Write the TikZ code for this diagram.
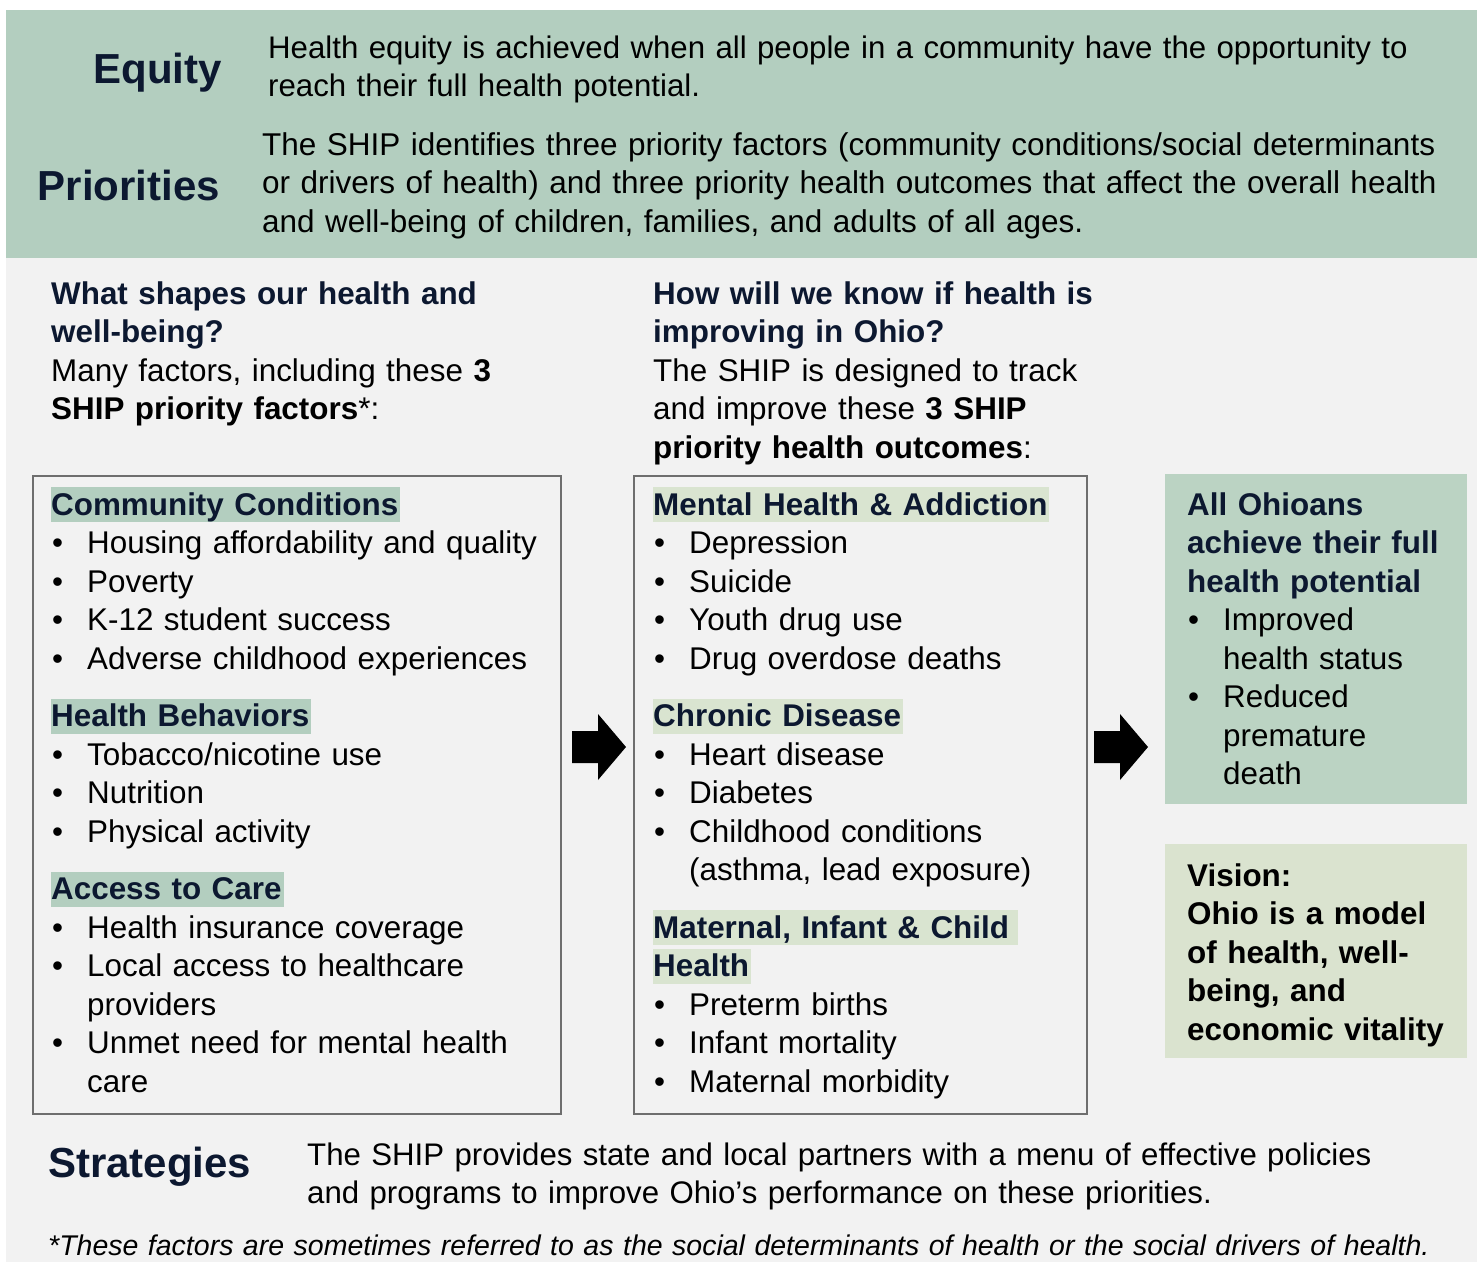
\documentclass[tikz,border=0pt]{standalone}
\usepackage{fontspec}
\setmainfont{Liberation Sans}

\definecolor{bandGreen}{RGB}{179,206,191}
\definecolor{paleGreen}{RGB}{217,228,208}
\definecolor{goalGreen}{RGB}{187,211,195}
\definecolor{visionGreen}{RGB}{218,227,207}
\definecolor{pageGray}{RGB}{242,242,242}
\definecolor{frameGray}{RGB}{110,110,110}
\definecolor{inkNavy}{RGB}{12,24,48}

\newcommand{\hilite}[2]{{\setlength{\fboxsep}{0pt}\colorbox{#1}{\rule[-7pt]{0pt}{35pt}#2}}}
\newcommand{\boxhead}[2]{\hilite{#1}{\textcolor{inkNavy}{\bfseries #2}}}
\newcommand{\nexthead}[2]{\par\vspace{19pt}\noindent\boxhead{#1}{#2}}
\newcommand{\bitem}[1]{\par\hangindent=36pt\hangafter=1\noindent\makebox[36pt][l]{\hspace{1pt}\textbullet}#1}

\begin{document}
\begin{tikzpicture}[x=1pt, y=-1pt]
  \tikzstyle{bandHead} = [anchor=base east, inner sep=0pt, text=inkNavy, font={\fontsize{42}{50}\selectfont\bfseries}];
  \tikzstyle{bandText} = [anchor=base west, inner sep=0pt, align=left, text width=1200pt, font={\fontsize{31.2}{38.5}\selectfont}];
  \tikzstyle{bodyText} = [anchor=base west, inner sep=0pt, align=left, text width=500pt, font={\fontsize{31.4}{38.5}\selectfont}];
  \tikzstyle{frameBox} = [draw=frameGray, line width=1.6pt, anchor=north west, inner sep=0pt];
  \tikzstyle{goalBox} = [anchor=north west, inner sep=0pt];

  \useasboundingbox (0,0) rectangle (1477,1262);
  \fill[white] (0,0) rectangle (1477,1262);
  \fill[pageGray] (6,258) rectangle (1477,1262);
  \fill[bandGreen] (6,10) rectangle (1477,258);

  \node[bandHead] (eqHead) at (222,83) {Equity};
  \node[bandText] (eqText) at (268,58) {Health equity is achieved when all people in a community have the opportunity to\\reach their full health potential.};
  \node[bandHead] (prHead) at (220,200) {Priorities};
  \node[bandText, font={\fontsize{31.5}{38.5}\selectfont}] (prText) at (262,155) {The SHIP identifies three priority factors (community conditions/social determinants\\or drivers of health) and three priority health outcomes that affect the overall health\\and well-being of children, families, and adults of all ages.};

  \node[bodyText] (askFactors) at (51,304) {{\color{inkNavy}\bfseries What shapes our health and\\well-being?}\\Many factors, including these \textbf{3}\\\textbf{SHIP priority factors}*:};
  \node[bodyText] (askOutcomes) at (653,304) {{\color{inkNavy}\bfseries How will we know if health is\\improving in Ohio?}\\The SHIP is designed to track\\and improve these \textbf{3 SHIP}\\\textbf{priority health outcomes}:};

  \node[frameBox, minimum width=528pt, minimum height=638pt] (factors) at (32,475) {};
  \node[frameBox, minimum width=453pt, minimum height=638pt] (outcomes) at (633,475) {};
  \node[goalBox, fill=goalGreen, minimum width=302pt, minimum height=330pt] (goal) at (1165,474) {};
  \node[goalBox, fill=visionGreen, minimum width=302pt, minimum height=214pt] (vision) at (1165,844) {};

  \node[bodyText] (factorList) at (51,515) {\noindent\boxhead{bandGreen}{Community Conditions\hspace{2pt}}
    \bitem{Housing affordability and quality}
    \bitem{Poverty}
    \bitem{K-12 student success}
    \bitem{Adverse childhood experiences}
    \nexthead{bandGreen}{Health Behaviors\hspace{2pt}}
    \bitem{Tobacco/nicotine use}
    \bitem{Nutrition}
    \bitem{Physical activity}
    \nexthead{bandGreen}{Access to Care\hspace{2pt}}
    \bitem{Health insurance coverage}
    \bitem{Local access to healthcare\newline providers}
    \bitem{Unmet need for mental health\newline care}\par};

  \node[bodyText] (outcomeList) at (653,515) {\noindent\boxhead{paleGreen}{Mental Health \& Addiction\hspace{2pt}}
    \bitem{Depression}
    \bitem{Suicide}
    \bitem{Youth drug use}
    \bitem{Drug overdose deaths}
    \nexthead{paleGreen}{Chronic Disease\hspace{2pt}}
    \bitem{Heart disease}
    \bitem{Diabetes}
    \bitem{Childhood conditions\newline (asthma, lead exposure)}
    \nexthead{paleGreen}{Maternal, Infant \& Child\hspace{9pt}}\\
    \boxhead{paleGreen}{Health\hspace{2pt}}
    \bitem{Preterm births}
    \bitem{Infant mortality}
    \bitem{Maternal morbidity}\par};

  \node[bodyText, text width=280pt] (goalText) at (1187,515) {{\color{inkNavy}\bfseries All Ohioans\\achieve their full\\health potential}
    \bitem{Improved\newline health status}
    \bitem{Reduced\newline premature\newline death}\par};
  \node[bodyText, text width=280pt, font={\fontsize{31.4}{38.5}\selectfont\bfseries}] (visionText) at (1187,886) {Vision:\\Ohio is a model\\of health, well-\\being, and\\economic vitality};

  \foreach \ax in {572,1094}
    \fill[black] (\ax,731) -- ++(26,0) -- ++(0,-17) -- ++(28,33) -- ++(-28,33) -- ++(0,-17) -- ++(-26,0) -- cycle;

  \node[bandHead, anchor=base west] (stHead) at (48,1177) {Strategies};
  \node[bandText] (stText) at (307,1165) {The SHIP provides state and local partners with a menu of effective policies\\and programs to improve Ohio’s performance on these priorities.};
  \node[bandText, text width=1440pt, font={\fontsize{28.5}{35}\selectfont\itshape}] (footNote) at (48,1255) {*These factors are sometimes referred to as the social determinants of health or the social drivers of health.};
\end{tikzpicture}
\end{document}
